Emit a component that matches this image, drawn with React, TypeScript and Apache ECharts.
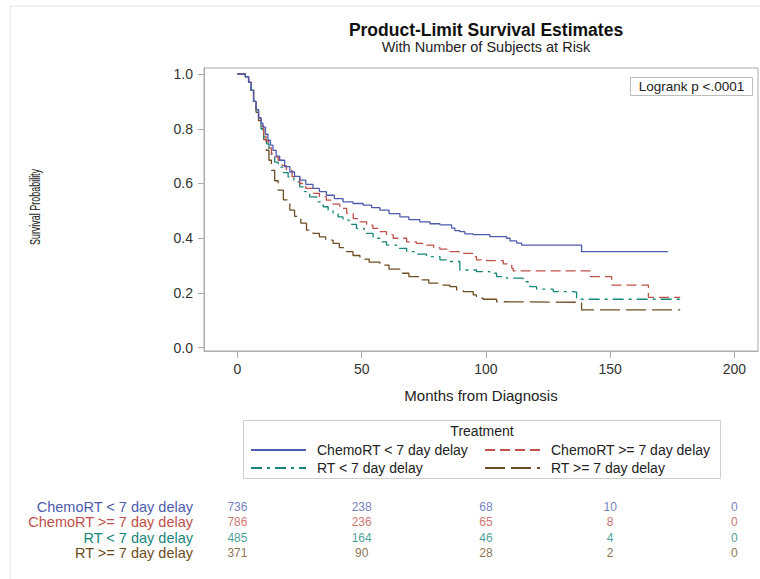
import React, { useEffect, useRef } from "react";
import * as echarts from "echarts";

const SERIES_NAMES = [
  "ChemoRT < 7 day delay",
  "ChemoRT >= 7 day delay",
  "RT < 7 day delay",
  "RT >= 7 day delay",
];

// Kaplan-Meier step points: [month, survival probability]
const chemoLt7: [number, number][] = [
  [0, 1], [3.2, 0.99], [4.5, 0.97], [5.5, 0.94], [6.5, 0.9], [7.5, 0.87], [8.5, 0.84], [9.5, 0.82],
  [10.3, 0.806], [11.3, 0.78], [12.3, 0.758], [13.3, 0.74], [14.3, 0.721], [15.6, 0.7], [17, 0.685],
  [19, 0.662], [21.1, 0.642], [23, 0.626], [25.1, 0.612], [27.5, 0.597], [30.4, 0.582], [33, 0.57],
  [35.8, 0.557], [39, 0.545], [42.5, 0.533], [46.5, 0.527], [50.6, 0.521], [54, 0.512], [57.3, 0.503],
  [61, 0.49], [65.4, 0.478], [69, 0.468], [73.4, 0.46], [77.5, 0.453], [81.5, 0.449], [86.2, 0.437],
  [87.5, 0.428], [89.5, 0.424], [91.5, 0.416], [94.9, 0.413], [101.6, 0.406], [108.3, 0.4],
  [109.7, 0.39], [112.4, 0.382], [114.4, 0.375], [138.5, 0.351], [173.2, 0.351],
];

const chemoGe7: [number, number][] = [
  [0, 1], [3.2, 0.99], [4.5, 0.97], [5.5, 0.94], [6.5, 0.9], [7.5, 0.87], [8.5, 0.84], [9.5, 0.81],
  [10.5, 0.78], [11.5, 0.755], [12.5, 0.73], [13.7, 0.709], [15, 0.697], [16.4, 0.685], [18, 0.665],
  [19.7, 0.648], [22, 0.625], [25.1, 0.6], [27.5, 0.582], [30.4, 0.564], [33, 0.552], [35.8, 0.539],
  [38.5, 0.525], [41.2, 0.509], [44, 0.49], [46.6, 0.472], [49, 0.46], [52, 0.448], [54.5, 0.436],
  [57.3, 0.424], [60, 0.412], [62.7, 0.4], [68.1, 0.387], [72, 0.381], [76.1, 0.375], [79, 0.366],
  [81.5, 0.36], [85.5, 0.351], [89.5, 0.345], [94.9, 0.333], [96.2, 0.321], [100.3, 0.318],
  [107, 0.306], [110.4, 0.29], [111, 0.281], [141.9, 0.26], [150.6, 0.229], [165.4, 0.184], [178.2, 0.184],
];

const rtLt7: [number, number][] = [
  [0, 1], [3.2, 0.99], [4.5, 0.97], [5.5, 0.94], [6.5, 0.9], [7.5, 0.87], [8.5, 0.84], [9.5, 0.8],
  [10.5, 0.77], [11.7, 0.745], [12.7, 0.72], [13.7, 0.697], [15, 0.678], [16.4, 0.66], [18.4, 0.64],
  [20.4, 0.624], [22.7, 0.606], [25.1, 0.588], [27, 0.57], [29.1, 0.551], [31.8, 0.533], [34.5, 0.515],
  [36.5, 0.503], [38.5, 0.491], [40.5, 0.478], [42.5, 0.466], [45, 0.451], [47.9, 0.436], [51, 0.418],
  [54.6, 0.4], [57.3, 0.387], [60, 0.375], [64, 0.363], [68.1, 0.351], [72, 0.342], [76.1, 0.333],
  [81.5, 0.321], [85.5, 0.315], [89.5, 0.284], [96.2, 0.278], [101.6, 0.272], [104.3, 0.26],
  [108.3, 0.254], [115, 0.241], [117.7, 0.223], [120.4, 0.214], [127.1, 0.205], [135.2, 0.203],
  [136.5, 0.177], [178.2, 0.177],
];

const rtGe7: [number, number][] = [
  [0, 1], [3.2, 0.99], [4.5, 0.97], [5.5, 0.94], [6.5, 0.9], [7.5, 0.86], [8.5, 0.83], [9.6, 0.8],
  [10.6, 0.76], [11.7, 0.721], [12.7, 0.685], [13.7, 0.648], [15, 0.61], [16.4, 0.576], [18.5, 0.54],
  [21.1, 0.503], [23, 0.48], [25.5, 0.455], [27.8, 0.43], [30.4, 0.418], [33, 0.405], [35.5, 0.393],
  [38.5, 0.381], [41, 0.366], [43.9, 0.351], [46.5, 0.337], [49.3, 0.324], [53, 0.313], [57.3, 0.302],
  [61, 0.287], [65.4, 0.272], [69, 0.26], [73.4, 0.248], [77, 0.236], [81.5, 0.229], [85.5, 0.223],
  [88.2, 0.211], [90.9, 0.205], [94.9, 0.193], [96.2, 0.181], [98.9, 0.177], [104.3, 0.168],
  [105.6, 0.166], [138.5, 0.138], [178.2, 0.138],
];

const RISK_TIMES = [0, 50, 100, 150, 200];
const riskChemoLt7 = [736, 238, 68, 10, 0];
const riskChemoGe7 = [786, 236, 65, 8, 0];
const riskRtLt7 = [485, 164, 46, 4, 0];
const riskRtGe7 = [371, 90, 28, 2, 0];

const X_TICKS = [0, 50, 100, 150, 200];
const Y_TICKS = [0, 0.2, 0.4, 0.6, 0.8, 1.0];

const TITLE = "Product-Limit Survival Estimates";
const SUBTITLE = "With Number of Subjects at Risk";
const X_NAME = "Months from Diagnosis";
const Y_NAME = "Survival Probability";
const LEGEND_TITLE = "Treatment";
const LOGRANK = "Logrank p <.0001";

const FONT = '"Liberation Sans", Arial, Helvetica, sans-serif';
const COLORS = ["#4d5cae", "#c0504a", "#17877a", "#6e4c22"];
const DASHES: any[] = ["solid", [10, 5], [11, 5, 3, 5], [20, 6]];
const AXIS_COLOR = "#ababab";

export default function App() {
  const ref = useRef<HTMLDivElement>(null);

  useEffect(() => {
    if (!ref.current) return;
    const chart = echarts.init(ref.current, undefined, { renderer: "svg" });
    const curves = [chemoLt7, chemoGe7, rtLt7, rtGe7];
    const risks = [riskChemoLt7, riskChemoGe7, riskRtLt7, riskRtGe7];
    const xMin = -13.45;
    const xMax = 209.5;

    const lineSeries = SERIES_NAMES.map((name, i) => ({
      name,
      type: "line",
      step: "end",
      xAxisIndex: 0,
      yAxisIndex: 0,
      data: curves[i],
      symbol: "none",
      showSymbol: false,
      lineStyle: { color: COLORS[i], width: 1.3, type: DASHES[i] },
      itemStyle: { color: COLORS[i] },
      z: 10 - i,
    }));

    const riskSeries = SERIES_NAMES.map((name, i) => ({
      name: "risk-" + i,
      type: "scatter",
      xAxisIndex: 1,
      yAxisIndex: 1,
      symbolSize: 1,
      itemStyle: { color: "rgba(0,0,0,0)" },
      data: RISK_TIMES.map((t, j) => [t, name, risks[i][j]]),
      label: {
        show: true,
        position: "inside",
        formatter: (p: any) => String(p.value[2]),
        color: COLORS[i],
        fontSize: 12,
        fontFamily: FONT,
      },
    }));

    const rich: any = {};
    COLORS.forEach((c, i) => {
      rich["r" + i] = { color: c, fontSize: 14.5, fontFamily: FONT };
    });

    const legendBase = {
      orient: "vertical",
      top: 443,
      padding: 0,
      itemWidth: 55,
      itemHeight: 14,
      itemGap: 4,
      selectedMode: false,
      itemStyle: { color: "rgba(0,0,0,0)", borderWidth: 0, opacity: 0 },
      textStyle: { fontSize: 14, color: "#222", fontFamily: FONT, padding: [0, 0, 0, 6] },
    };

    const option: any = {
      animation: false,
      backgroundColor: "#ffffff",
      title: {
        text: TITLE,
        subtext: SUBTITLE,
        left: 481,
        top: 16,
        textAlign: "center",
        itemGap: 0,
        textStyle: { fontSize: 17.5, fontWeight: "bold", color: "#111", fontFamily: FONT },
        subtextStyle: { fontSize: 14.5, color: "#222", fontFamily: FONT },
      },
      grid: [
        { left: 204, right: 2, top: 68, height: 283, show: true, borderColor: AXIS_COLOR, borderWidth: 1 },
        { left: 204, right: 2, top: 499.3, height: 61.3 },
      ],
      legend: [
        { ...legendBase, data: [SERIES_NAMES[0], SERIES_NAMES[2]], left: 250 },
        { ...legendBase, data: [SERIES_NAMES[1], SERIES_NAMES[3]], left: 484 },
      ],
      xAxis: [
        {
          type: "value",
          gridIndex: 0,
          min: xMin,
          max: xMax,
          name: X_NAME,
          nameLocation: "middle",
          nameGap: 37,
          nameTextStyle: { fontSize: 15, color: "#222", fontFamily: FONT },
          axisLine: { show: true, onZero: false, lineStyle: { color: AXIS_COLOR } },
          axisTick: { show: true, length: 7, customValues: X_TICKS, lineStyle: { color: AXIS_COLOR } },
          axisLabel: { customValues: X_TICKS, fontSize: 14, color: "#333", margin: 11, fontFamily: FONT },
          splitLine: { show: false },
        },
        {
          type: "value",
          gridIndex: 1,
          min: xMin,
          max: xMax,
          show: false,
        },
      ],
      yAxis: [
        {
          type: "value",
          gridIndex: 0,
          min: -0.012,
          max: 1.022,
          axisLine: { show: true, onZero: false, lineStyle: { color: AXIS_COLOR } },
          axisTick: { show: true, length: 6, customValues: Y_TICKS, lineStyle: { color: AXIS_COLOR } },
          axisLabel: {
            customValues: Y_TICKS,
            formatter: (v: number) => v.toFixed(1),
            fontSize: 14,
            color: "#333",
            margin: 11,
            fontFamily: FONT,
          },
          splitLine: { show: false },
        },
        {
          type: "category",
          gridIndex: 1,
          data: SERIES_NAMES,
          inverse: true,
          axisLine: { show: false },
          axisTick: { show: false },
          splitLine: { show: false },
          axisLabel: {
            interval: 0,
            margin: 11,
            formatter: (v: string, idx: number) => `{r${idx}|${v}}`,
            rich,
          },
        },
      ],
      graphic: [
        {
          type: "rect",
          silent: true,
          z: -1,
          shape: { x: 10, y: 6, width: 800, height: 600 },
          style: { fill: "none", stroke: "#e2e2e2", lineWidth: 1 },
        },
        {
          type: "text",
          silent: true,
          x: 35,
          y: 207,
          rotation: Math.PI / 2,
          scaleX: 0.64,
          style: {
            text: Y_NAME,
            fontSize: 14,
            fill: "#222",
            fontFamily: FONT,
            align: "center",
            verticalAlign: "middle",
          },
        },
        {
          type: "rect",
          silent: true,
          shape: { x: 630.5, y: 77.5, width: 122, height: 18 },
          style: { fill: "#fff", stroke: "#bdbdbd", lineWidth: 1 },
        },
        {
          type: "text",
          silent: true,
          x: 691.5,
          y: 86.5,
          style: {
            text: LOGRANK,
            fontSize: 13.5,
            fill: "#222",
            fontFamily: FONT,
            align: "center",
            verticalAlign: "middle",
          },
        },
        {
          type: "rect",
          silent: true,
          shape: { x: 243.5, y: 420.5, width: 477, height: 58 },
          style: { fill: "none", stroke: "#cfcfcf", lineWidth: 1 },
        },
        {
          type: "text",
          silent: true,
          x: 482,
          y: 431,
          style: {
            text: LEGEND_TITLE,
            fontSize: 14,
            fill: "#222",
            fontFamily: FONT,
            align: "center",
            verticalAlign: "middle",
          },
        },
      ],
      series: [...lineSeries, ...riskSeries],
    };

    chart.setOption(option);
    return () => chart.dispose();
  }, []);

  return (
    <div
      ref={ref}
      style={{ position: "absolute", left: 0, top: 0, width: 760, height: 579, background: "#fff" }}
    />
  );
}
